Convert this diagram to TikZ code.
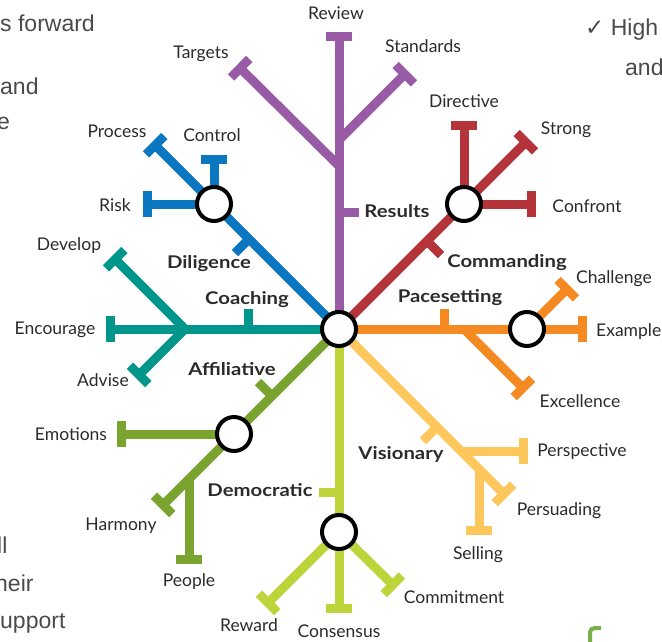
\documentclass[tikz,border=0pt]{standalone}
\usepackage{fontspec}
\setmainfont{Lato}
\newfontfamily\namefont[FakeStretch=1.16]{Lato}
\newfontfamily\slidefont{Liberation Sans}
\newfontfamily\symfont{DejaVu Sans}
\usetikzlibrary{arrows.meta}

\definecolor{resultsc}{HTML}{9A5BA6}
\definecolor{commandc}{HTML}{B5343A}
\definecolor{pacec}{HTML}{F58A22}
\definecolor{visionc}{HTML}{FEC75C}
\definecolor{democc}{HTML}{BDD43B}
\definecolor{affilc}{HTML}{7BA32F}
\definecolor{coachc}{HTML}{00968C}
\definecolor{diligc}{HTML}{0B77C0}
\definecolor{labelc}{HTML}{2B2B2B}
\definecolor{slidec}{HTML}{4A4A4A}
\definecolor{cornerc}{HTML}{7BAF4A}

\tikzset{
  route/.style={line width=9pt},
  endstop/.style={route, -{Bar[width=26pt]}},
  station/.style={circle, draw=black, line width=4pt, fill=white, minimum size=34pt, inner sep=0pt},
  lbl/.style={text=labelc, font=\fontsize{17.5}{17.5}\selectfont, inner sep=0pt, text height=12pt, text depth=4pt},
  linename/.style={lbl, font=\namefont\bfseries\fontsize{17.5}{17.5}\selectfont},
  slidetext/.style={text=slidec, font=\slidefont\fontsize{23}{23}\selectfont, inner sep=0pt},
}

\begin{document}
\begin{tikzpicture}[x=1pt, y=-1pt]
    \useasboundingbox (0,0) rectangle (662,641);

    % Stations and line ends
    \coordinate (hub) at (339,329);
    \coordinate (review) at (339,32);
    \coordinate (j_targets) at (339,166);
    \coordinate (targets) at (237,65);
    \coordinate (j_standards) at (339,140);
    \coordinate (standards) at (408,71);

    \coordinate (p_cmd) at (464,204);
    \coordinate (strong) at (529,139);
    \coordinate (directive) at (464,121);
    \coordinate (confront) at (536,204);

    \coordinate (p_pace) at (527,329);
    \coordinate (example) at (587,329);
    \coordinate (challenge) at (570,286);
    \coordinate (j_excel) at (464,329);
    \coordinate (excellence) at (526,391);

    \coordinate (persuading) at (507,497);
    \coordinate (j_persp) at (461,451);
    \coordinate (perspective) at (528,451);
    \coordinate (j_selling) at (479,469);
    \coordinate (selling) at (479,535);

    \coordinate (p_dem) at (339,532);
    \coordinate (consensus) at (339,613);
    \coordinate (reward) at (265,606);
    \coordinate (commitment) at (396,588);

    \coordinate (p_aff) at (234,434);
    \coordinate (harmony) at (160,508);
    \coordinate (emotions) at (117,434);
    \coordinate (j_people) at (189,479);
    \coordinate (people) at (189,564);

    \coordinate (encourage) at (106,329);
    \coordinate (j_coach) at (185,329);
    \coordinate (develop) at (112,256);
    \coordinate (advise) at (136,378);

    \coordinate (p_dil) at (214,204);
    \coordinate (process) at (152,142);
    \coordinate (control) at (214,155);
    \coordinate (risk) at (143,204);

    % Results (purple)
    \draw[endstop, resultsc] (hub) -- (review);
    \draw[endstop, resultsc] (j_targets) -- (targets);
    \draw[endstop, resultsc] (j_standards) -- (standards);
    \draw[route, resultsc] (339,212) -- ++(20,0);

    % Commanding (red)
    \draw[endstop, commandc] (hub) -- (strong);
    \draw[endstop, commandc] (p_cmd) -- (directive);
    \draw[endstop, commandc] (p_cmd) -- (confront);
    \draw[route, commandc] (427,241) -- ++(14,14);

    % Pacesetting (orange)
    \draw[endstop, pacec] (hub) -- (example);
    \draw[endstop, pacec] (p_pace) -- (challenge);
    \draw[endstop, pacec] (j_excel) -- (excellence);
    \draw[route, pacec] (444,329) -- ++(0,-20);

    % Visionary (yellow)
    \draw[endstop, visionc] (hub) -- (persuading);
    \draw[endstop, visionc] (j_persp) -- (perspective);
    \draw[endstop, visionc] (j_selling) -- (selling);
    \draw[route, visionc] (437,427) -- ++(-14,14);

    % Democratic (light green)
    \draw[endstop, democc] (hub) -- (consensus);
    \draw[endstop, democc] (p_dem) -- (reward);
    \draw[endstop, democc] (p_dem) -- (commitment);
    \draw[route, democc] (339,492) -- ++(-20,0);

    % Affiliative (green)
    \draw[endstop, affilc] (hub) -- (harmony);
    \draw[endstop, affilc] (p_aff) -- (emotions);
    \draw[endstop, affilc] (j_people) -- (people);
    \draw[route, affilc] (272,396) -- ++(-14,-14);

    % Coaching (teal)
    \draw[endstop, coachc] (hub) -- (encourage);
    \draw[endstop, coachc] (j_coach) -- (develop);
    \draw[endstop, coachc] (j_coach) -- (advise);
    \draw[route, coachc] (248,329) -- ++(0,-20);

    % Diligence (blue)
    \draw[endstop, diligc] (hub) -- (process);
    \draw[endstop, diligc] (p_dil) -- (control);
    \draw[endstop, diligc] (p_dil) -- (risk);
    \draw[route, diligc] (249,239) -- ++(-14,14);

    % Station rings
    \node[station] (s_hub) at (hub) {};
    \node[station] (s_cmd) at (p_cmd) {};
    \node[station] (s_pace) at (p_pace) {};
    \node[station] (s_dem) at (p_dem) {};
    \node[station] (s_aff) at (p_aff) {};
    \node[station] (s_dil) at (p_dil) {};

    % Line names
    \node[linename] (n_results) at (397,213) {Results};
    \node[linename] (n_command) at (507,263) {Commanding};
    \node[linename] (n_pace) at (450,298) {Pacesetting};
    \node[linename] (n_vision) at (401,455) {Visionary};
    \node[linename] (n_democ) at (260,492) {Democratic};
    \node[linename] (n_affil) at (232,371) {Affiliative};
    \node[linename] (n_coach) at (247,300) {Coaching};
    \node[linename] (n_dilig) at (209,264) {Diligence};

    % Stop labels
    \node[lbl] (l_review) at (336,15) {Review};
    \node[lbl] (l_targets) at (201,54) {Targets};
    \node[lbl] (l_standards) at (423,48) {Standards};
    \node[lbl] (l_directive) at (464,103) {Directive};
    \node[lbl] (l_strong) at (566,130) {Strong};
    \node[lbl] (l_confront) at (587,208) {Confront};
    \node[lbl] (l_challenge) at (614,279) {Challenge};
    \node[lbl, anchor=west] (l_example) at (596,332) {Example};
    \node[lbl] (l_excellence) at (580,403) {Excellence};
    \node[lbl] (l_perspective) at (582,452) {Perspective};
    \node[lbl] (l_persuading) at (559,511) {Persuading};
    \node[lbl] (l_selling) at (478,555) {Selling};
    \node[lbl] (l_commitment) at (454,599) {Commitment};
    \node[lbl] (l_consensus) at (339,633) {Consensus};
    \node[lbl] (l_reward) at (249,627) {Reward};
    \node[lbl] (l_people) at (189,582) {People};
    \node[lbl] (l_harmony) at (121,526) {Harmony};
    \node[lbl] (l_emotions) at (71,436) {Emotions};
    \node[lbl] (l_advise) at (103,382) {Advise};
    \node[lbl] (l_encourage) at (55,330) {Encourage};
    \node[lbl] (l_develop) at (69,246) {Develop};
    \node[lbl] (l_risk) at (115,207) {Risk};
    \node[lbl] (l_process) at (117,133) {Process};
    \node[lbl] (l_control) at (212,137) {Control};

    % Slide text round the picture
    \node[slidetext, anchor=base east] (s_fwd) at (95,31) {s forward};
    \node[slidetext, anchor=base west] (s_and) at (0,94) {and};
    \node[slidetext, anchor=base west] (s_e) at (-3,129) {e};
    \node[slidetext, anchor=base west] (s_high) at (585,35) {{\symfont ✓} High};
    \node[slidetext, anchor=base west] (s_and2) at (625,75) {and};
    \node[slidetext, anchor=base west] (s_ll) at (-3,553) {ll};
    \node[slidetext, anchor=base west] (s_heir) at (-5,591) {heir};
    \node[slidetext, anchor=base west] (s_upport) at (0,628) {upport};
    \draw[cornerc, line width=4pt] (590,643) -- (590,637) .. controls (590,628) .. (601,628);

\end{tikzpicture}
\end{document}
